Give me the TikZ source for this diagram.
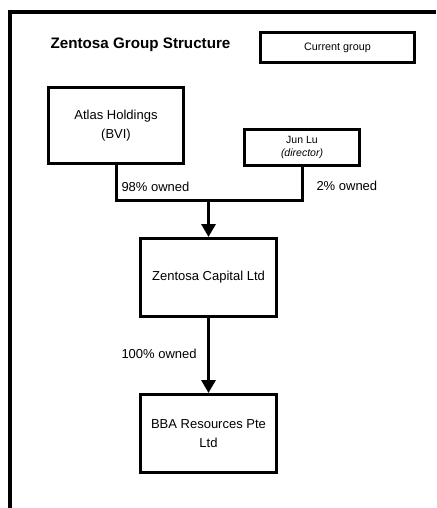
\documentclass[tikz,border=0pt]{standalone}
\usepackage{fontspec}
\setmainfont{Liberation Sans}
\usetikzlibrary{
    arrows.meta,
    calc,
    positioning
}
\tikzset{
  every path/.style={
    black,
    line width=3pt
  },
  entity/.style={
    draw,
    rectangle,
    align=center,
    inner sep=2pt,
    font=\fontsize{13}{18.5}\selectfont
  },
  owned/.style={
    anchor=west,
    inner sep=0pt,
    font=\fontsize{13}{15}\selectfont
  }
}

\begin{document}
\begin{tikzpicture}[x=1pt,y=-1pt,>={Triangle[length=13pt,width=14pt]}]
    \useasboundingbox (0,0) rectangle (436,508);

    % 枠
    \draw[line width=4pt] (436,12) -- (10,12) -- (10,508);

    % タイトルと凡例
    \node (title) at (140.5,45) {\fontsize{15.2}{17}\selectfont\bfseries Zentosa Group Structure};
    \node[entity, minimum width=154pt, minimum height=30pt, font=\fontsize{10.8}{12}\selectfont]
        (legend) at (337.5,47.5) {Current group};

    % 株主
    \node[entity, minimum width=135pt, minimum height=76pt]
        (atlas) at (116,125.5) {Atlas Holdings\\(BVI)};
    \node[entity, minimum width=115pt, minimum height=36pt, font=\fontsize{10.5}{13}\selectfont]
        (junlu) at (302,147.5) {Jun Lu\\\textit{(director)}};

    % 会社
    \node[entity, minimum width=136pt, minimum height=78pt]
        (zentosa) at (208.5,277.5) {Zentosa Capital Ltd};
    \node[entity, minimum width=136pt, minimum height=78pt]
        (bba) at (208.5,433.5) {BBA Resources Pte\\Ltd};

    % 所有関係
    \coordinate (join) at (208.5,200);
    \draw (atlas.south) |- (join) -| (junlu.south);
    \draw[->] (join) -- (zentosa.north);
    \draw[->] (zentosa.south) -- (bba.north);

    \node[owned] (own98) at (120,187) {98\% owned};
    \node[owned] (own2) at (315,186) {2\% owned};
    \node[owned] (own100) at (120,354) {100\% owned};
\end{tikzpicture}
\end{document}
